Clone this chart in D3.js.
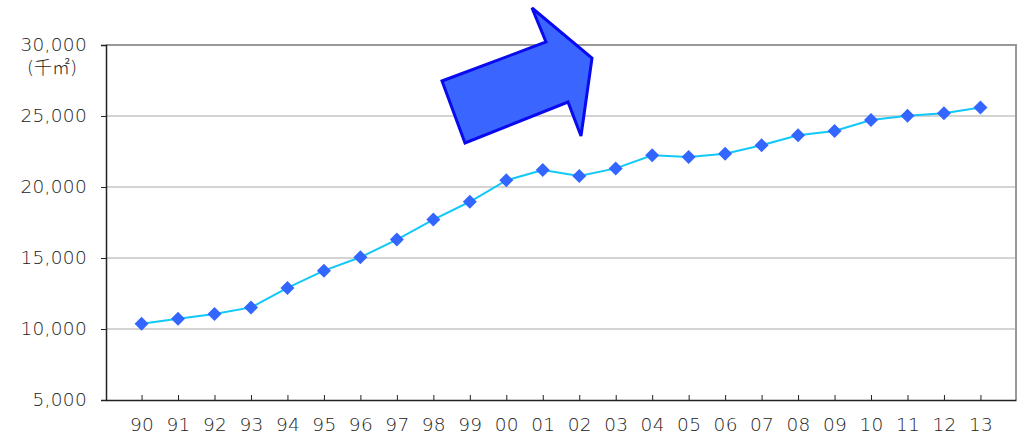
<!DOCTYPE html>
<html>
<head>
<meta charset="utf-8">
<script src="https://cdn.jsdelivr.net/npm/d3@7"></script>
<style>
  html, body { margin: 0; padding: 0; background: #fff; }
  svg text { font-family: "DejaVu Sans", "Noto Sans CJK JP", sans-serif; fill: #222; }
</style>
</head>
<body>
<svg id="chart" width="1025" height="436"></svg>
<script>
// Fiscal years (two-digit labels)
const years = ["90","91","92","93","94","95","96","97","98","99","00","01","02","03","04","05","06","07","08","09","10","11","12","13"];
// Floor area, thousand m²
const area = [10370,10720,11050,11520,12890,14110,15050,16300,17710,18960,20470,21190,20770,21310,22230,22110,22340,22940,23640,23950,24720,25010,25200,25600];
// Y axis ticks
const yTicks = [5000,10000,15000,20000,25000,30000];
const unitLabel = "(千㎡)";

const svg = d3.select("#chart");
const margin = { top: 45, right: 9, bottom: 36, left: 106 };
const W = 1025 - margin.left - margin.right;
const H = 436 - margin.top - margin.bottom;
const g = svg.append("g").attr("transform", `translate(${margin.left},${margin.top})`);

const x = d3.scalePoint().domain(years).range([0, W]).padding(0.975);
const y = d3.scaleLinear().domain([5000, 30000]).range([H, 0]);

// Horizontal gridlines
g.append("g").selectAll("line")
  .data(yTicks.filter(t => t > 5000 && t < 30000))
  .join("line")
  .attr("x1", 0).attr("x2", W)
  .attr("y1", d => y(d)).attr("y2", d => y(d))
  .attr("stroke", "#a8a8a8").attr("stroke-width", 1);

// Top and right frame
g.append("path")
  .attr("d", `M0,${y(30000)}H${W}V${H}`)
  .attr("fill", "none").attr("stroke", "#999").attr("stroke-width", 2);

// Y axis
const yAxis = g.append("g")
  .call(d3.axisLeft(y).tickValues(yTicks).tickSize(5).tickPadding(14).tickFormat(d3.format(",")));
yAxis.select(".domain").attr("stroke", "#222").attr("stroke-width", 1.5);
yAxis.selectAll(".tick line").attr("stroke", "#222");
yAxis.selectAll("text").attr("font-size", 18.5).attr("font-weight", 200).attr("letter-spacing", 0.3).style("fill", "#222");

// Unit label under the top tick
g.append("text")
  .attr("x", -54).attr("y", y(30000) + 29)
  .attr("text-anchor", "middle")
  .attr("font-size", 18)
  .attr("font-family", "\"Noto Sans CJK JP\", sans-serif")
  .attr("font-weight", 300)
  .text(unitLabel);

// X axis with inward ticks
const xAxis = g.append("g").attr("transform", `translate(0,${H})`)
  .call(d3.axisBottom(x).tickSizeInner(-5).tickSizeOuter(0).tickPadding(18));
xAxis.select(".domain").attr("stroke", "#222").attr("stroke-width", 1.5);
xAxis.selectAll(".tick line").attr("stroke", "#222");
xAxis.selectAll("text").attr("font-size", 18.5).attr("font-weight", 200).attr("letter-spacing", 0.3).style("fill", "#222");

// Series line
g.append("path")
  .datum(area)
  .attr("fill", "none")
  .attr("stroke", "#12c8f8")
  .attr("stroke-width", 2)
  .attr("d", d3.line().x((d, i) => x(years[i])).y(d => y(d)));

// Diamond markers
g.append("g").selectAll("path")
  .data(area)
  .join("path")
  .attr("transform", (d, i) => `translate(${x(years[i])},${y(d)})`)
  .attr("d", "M0,-7L7,0L0,7L-7,0Z")
  .attr("fill", "#3366ff");

// Upward-trend arrow
const arrow = [[465,143],[442,81],[546,42],[532,8],[592,58],[581,136],[568,102]];
svg.append("polygon")
  .attr("points", arrow.map(p => p.join(",")).join(" "))
  .attr("fill", "#3a66ff")
  .attr("stroke", "#0a0aee")
  .attr("stroke-width", 3)
  .attr("stroke-linejoin", "miter");
</script>
</body>
</html>
